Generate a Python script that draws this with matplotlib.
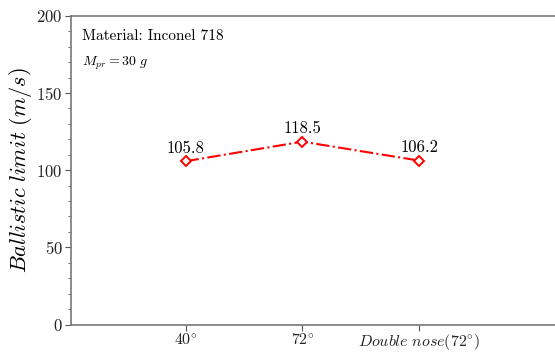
import matplotlib
matplotlib.use("Agg")
import matplotlib.pyplot as plt
from matplotlib.ticker import MultipleLocator

plt.rcParams['font.family'] = ['cmr10', 'DejaVu Serif']
plt.rcParams['mathtext.fontset'] = 'cm'
plt.rcParams['axes.formatter.use_mathtext'] = True

# data
categories = [r'$40^{\circ}$', r'$72^{\circ}$', r'$Double\ nose(72^{\circ})$']
xpos = [1, 2, 3]
ballistic = [105.8, 118.5, 106.2]
labels = ['105.8', '118.5', '106.2']

fig = plt.figure(figsize=(5.55, 3.52), dpi=100)
ax = fig.add_axes([0.128, 0.078, 0.876, 0.877])

ax.plot(xpos, ballistic, color='red', linestyle='-.', linewidth=1.5,
        marker='D', markersize=5, markerfacecolor='white',
        markeredgecolor='red', markeredgewidth=1.4)

for x, y, s in zip(xpos, ballistic, labels):
    ax.annotate(s, (x, y), xytext=(0, 4), textcoords='offset points',
                ha='center', va='bottom', fontsize=12)

ax.set_xlim(0.02, 4.18)
ax.set_ylim(0, 200)
ax.set_xticks(xpos)
ax.set_xticklabels(categories, fontsize=11.5)
ax.yaxis.set_major_locator(MultipleLocator(50))
ax.yaxis.set_minor_locator(MultipleLocator(10))
ax.tick_params(axis='y', labelsize=12, pad=2)
ax.tick_params(axis='x', pad=1.5)
ax.tick_params(which='major', length=4, color='#555555', labelcolor='#222222')
ax.tick_params(which='minor', length=2, color='#555555')
for sp in ax.spines.values():
    sp.set_color('#777777')
    sp.set_linewidth(1.2)

ax.set_ylabel(r'$Ballistic\ limit\ (m/s)$', fontsize=16, labelpad=2)

ax.text(0.022, 0.955, 'Material: Inconel 718', transform=ax.transAxes,
        fontsize=11, va='top', ha='left')
ax.text(0.022, 0.875, r'$M_{pr}=30\ g$', transform=ax.transAxes,
        fontsize=10, va='top', ha='left')

fig.savefig('out.png', dpi=100)
